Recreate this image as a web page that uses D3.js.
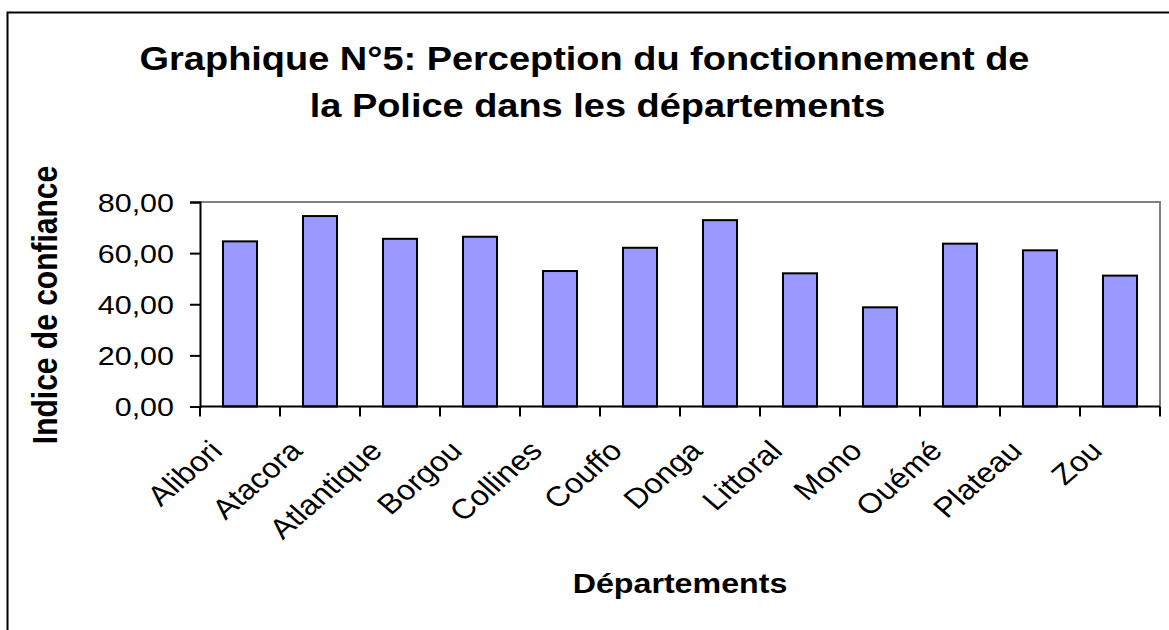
<!DOCTYPE html>
<html>
<head>
<meta charset="utf-8">
<script src="https://cdn.jsdelivr.net/npm/d3@7"></script>
<style>
  html, body { margin: 0; padding: 0; background: #fff; }
  svg { display: block; font-family: "Liberation Sans", Arial, sans-serif; }
</style>
</head>
<body>
<svg id="chart" width="1169" height="630"></svg>
<script>
// Departements and their police confidence index
const departements = ["Alibori", "Atacora", "Atlantique", "Borgou", "Collines", "Couffo",
  "Donga", "Littoral", "Mono", "Ouémé", "Plateau", "Zou"];
const indiceConfiance = [64.6, 74.5, 65.6, 66.4, 53.0, 62.1, 72.9, 52.1, 38.8, 63.7, 61.1, 51.2];
const yTicks = [0, 20, 40, 60, 80];
const titleLines = ["Graphique N°5: Perception du fonctionnement de", "la Police dans les départements"];

const svg = d3.select("#chart");
const W = 1169, H = 630;
const plot = { left: 200, right: 1160, top: 202, bottom: 406.5 };
const sx = 1.15; // horizontal stretch of the lettering

// outer chart frame (left and top edges visible)
svg.append("path")
  .attr("d", `M7.5,${H} V12.5 H${W}`)
  .attr("fill", "none").attr("stroke", "#000").attr("stroke-width", 2);

// title
const titleX = [584.5, 597.5];
svg.append("g").selectAll("text").data(titleLines).join("text")
  .attr("transform", (d, i) => `translate(${titleX[i]},${70 + i * 47}) scale(${sx},1)`)
  .attr("text-anchor", "middle")
  .attr("font-weight", "bold").attr("font-size", 33)
  .text(d => d);

const x = d3.scaleBand().domain(departements).range([plot.left, plot.right])
  .paddingInner(135 / 235).paddingOuter(135 / 235 / 2);
const xAxisScale = d3.scaleBand().domain(departements).range([plot.left, plot.right]);
const y = d3.scaleLinear().domain([0, 80]).range([plot.bottom, plot.top]);

// plot area border (top and right)
svg.append("path")
  .attr("d", `M${plot.left},${plot.top} H${plot.right} V${plot.bottom}`)
  .attr("fill", "none").attr("stroke", "#808080").attr("stroke-width", 2);

// bars
svg.append("g").selectAll("rect").data(departements).join("rect")
  .attr("x", d => x(d))
  .attr("y", (d, i) => y(indiceConfiance[i]))
  .attr("width", x.bandwidth())
  .attr("height", (d, i) => y(0) - y(indiceConfiance[i]))
  .attr("fill", "#9999FF").attr("stroke", "#000").attr("stroke-width", 2);

// y axis
const fmt = v => d3.format(".2f")(v).replace(".", ",");
const yAxis = svg.append("g").attr("transform", `translate(${plot.left},0)`)
  .call(d3.axisLeft(y).tickValues(yTicks).tickFormat(fmt).tickSize(10).tickPadding(0));
yAxis.select(".domain").attr("stroke-width", 2);
yAxis.selectAll(".tick line").attr("stroke-width", 2);
yAxis.selectAll(".tick text")
  .attr("x", -26 / sx).attr("dy", "0.35em")
  .attr("transform", `scale(${sx},1)`)
  .attr("font-size", 26.5).attr("fill", "#000")
  .attr("font-family", "'Liberation Sans', Arial, sans-serif");

// x axis: ticks on category boundaries
const boundaries = d3.range(departements.length + 1).map(i => plot.left + i * xAxisScale.step());
const xAxis = svg.append("g");
xAxis.append("line").attr("x1", plot.left).attr("x2", plot.right)
  .attr("y1", plot.bottom).attr("y2", plot.bottom)
  .attr("stroke", "#000").attr("stroke-width", 2);
xAxis.selectAll("line.tk").data(boundaries).join("line").attr("class", "tk")
  .attr("x1", d => d).attr("x2", d => d)
  .attr("y1", plot.bottom).attr("y2", plot.bottom + 10)
  .attr("stroke", "#000").attr("stroke-width", 2);
xAxis.selectAll("text").data(departements).join("text")
  .attr("transform", d => `translate(${xAxisScale(d) + xAxisScale.bandwidth() / 2 - 16},${plot.bottom + 46}) scale(${sx},1) rotate(-45)`)
  .attr("text-anchor", "end")
  .attr("font-size", 28)
  .text(d => d);

// axis titles
svg.append("text")
  .attr("transform", `translate(57,305) scale(${sx},1) rotate(-90)`)
  .attr("text-anchor", "middle").attr("font-weight", "bold").attr("font-size", 30)
  .text("Indice de confiance");
svg.append("text")
  .attr("transform", `translate(680,593) scale(${sx},1)`)
  .attr("text-anchor", "middle").attr("font-weight", "bold").attr("font-size", 28)
  .text("Départements");
</script>
</body>
</html>
